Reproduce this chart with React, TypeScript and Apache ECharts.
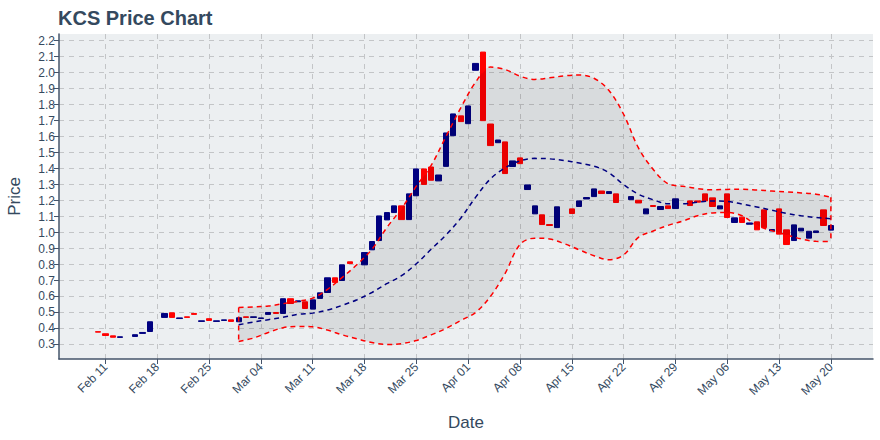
import React, { useEffect, useRef } from "react";
import * as echarts from "echarts";

const candleDates = [
  "2019-02-10", "2019-02-11", "2019-02-12", "2019-02-13", "2019-02-15", "2019-02-16", "2019-02-17",
  "2019-02-19", "2019-02-20", "2019-02-21", "2019-02-22", "2019-02-23", "2019-02-24", "2019-02-25",
  "2019-02-26", "2019-02-27", "2019-02-28", "2019-03-01", "2019-03-02", "2019-03-03", "2019-03-04",
  "2019-03-05", "2019-03-06", "2019-03-07", "2019-03-08", "2019-03-09", "2019-03-10", "2019-03-11",
  "2019-03-12", "2019-03-13", "2019-03-14", "2019-03-15", "2019-03-16", "2019-03-18", "2019-03-19",
  "2019-03-20", "2019-03-21", "2019-03-22", "2019-03-23", "2019-03-24", "2019-03-25", "2019-03-26",
  "2019-03-27", "2019-03-28", "2019-03-29", "2019-03-30", "2019-03-31", "2019-04-01", "2019-04-02",
  "2019-04-03", "2019-04-04", "2019-04-05", "2019-04-06", "2019-04-07", "2019-04-08", "2019-04-09",
  "2019-04-10", "2019-04-11", "2019-04-12", "2019-04-13", "2019-04-15", "2019-04-16", "2019-04-17",
  "2019-04-18", "2019-04-19", "2019-04-20", "2019-04-21", "2019-04-23", "2019-04-24", "2019-04-25",
  "2019-04-26", "2019-04-27", "2019-04-28", "2019-04-29", "2019-05-01", "2019-05-02", "2019-05-03",
  "2019-05-04", "2019-05-05", "2019-05-06", "2019-05-07", "2019-05-08", "2019-05-09", "2019-05-10",
  "2019-05-11", "2019-05-12", "2019-05-13", "2019-05-14", "2019-05-15", "2019-05-16", "2019-05-17",
  "2019-05-18", "2019-05-19", "2019-05-20",
];

const opens = [
  0.380, 0.367, 0.354, 0.344, 0.350, 0.369, 0.381,
  0.469, 0.498, 0.462, 0.473, 0.494, 0.444, 0.461,
  0.444, 0.450, 0.454, 0.442, 0.473, 0.469, 0.462,
  0.488, 0.500, 0.494, 0.586, 0.567, 0.567, 0.521,
  0.588, 0.625, 0.717, 0.700, 0.817, 0.798, 0.892,
  0.950, 1.079, 1.125, 1.167, 1.081, 1.230, 1.398,
  1.410, 1.323, 1.414, 1.606, 1.730, 1.681, 2.015,
  2.129, 1.679, 1.562, 1.567, 1.413, 1.467, 1.269,
  1.117, 1.111, 1.050, 1.031, 1.148, 1.163, 1.210,
  1.225, 1.260, 1.244, 1.242, 1.206, 1.202, 1.117,
  1.169, 1.144, 1.167, 1.150, 1.198, 1.198, 1.242,
  1.217, 1.148, 1.242, 1.063, 1.096, 1.052, 1.067,
  1.142, 1.010, 1.148, 1.017, 0.950, 1.010, 0.965,
  1.000, 1.142, 1.015,
];

const closes = [
  0.377, 0.356, 0.345, 0.348, 0.361, 0.375, 0.442,
  0.494, 0.469, 0.466, 0.469, 0.488, 0.448, 0.450,
  0.448, 0.454, 0.444, 0.467, 0.469, 0.473, 0.466,
  0.500, 0.494, 0.586, 0.556, 0.573, 0.525, 0.579,
  0.623, 0.717, 0.688, 0.798, 0.806, 0.875, 0.944,
  1.104, 1.125, 1.167, 1.081, 1.242, 1.398, 1.301,
  1.327, 1.360, 1.623, 1.742, 1.694, 1.792, 2.058,
  1.700, 1.544, 1.579, 1.369, 1.448, 1.431, 1.298,
  1.167, 1.050, 1.044, 1.161, 1.119, 1.198, 1.219,
  1.273, 1.244, 1.256, 1.188, 1.225, 1.185, 1.148,
  1.163, 1.163, 1.150, 1.211, 1.169, 1.190, 1.198,
  1.163, 1.167, 1.094, 1.092, 1.063, 1.060, 1.017,
  1.031, 1.019, 0.990, 0.925, 1.048, 1.027, 1.008,
  1.010, 1.044, 1.044,
];

const bandDates = [
  "2019-03-01", "2019-03-03", "2019-03-05", "2019-03-07", "2019-03-09", "2019-03-11", "2019-03-13",
  "2019-03-15", "2019-03-17", "2019-03-19", "2019-03-21", "2019-03-23", "2019-03-25", "2019-03-27",
  "2019-03-29", "2019-03-31", "2019-04-02", "2019-04-04", "2019-04-06", "2019-04-08", "2019-04-10",
  "2019-04-12", "2019-04-14", "2019-04-16", "2019-04-18", "2019-04-20", "2019-04-22", "2019-04-24",
  "2019-04-26", "2019-04-28", "2019-04-30", "2019-05-02", "2019-05-04", "2019-05-06", "2019-05-08",
  "2019-05-10", "2019-05-12", "2019-05-14", "2019-05-16", "2019-05-18", "2019-05-20",
];

const bandUpper = [
  0.531, 0.535, 0.540, 0.555, 0.570, 0.590, 0.645,
  0.720, 0.800, 0.895, 1.030, 1.150, 1.290, 1.420,
  1.600, 1.780, 1.940, 2.035, 2.020, 1.978, 1.958,
  1.968, 1.980, 1.986, 1.965, 1.890, 1.740, 1.530,
  1.395, 1.305, 1.290, 1.275, 1.267, 1.270, 1.271,
  1.266, 1.260, 1.254, 1.248, 1.240, 1.221,
];

const bandMiddle = [
  0.423, 0.440, 0.455, 0.470, 0.488, 0.496, 0.515,
  0.545, 0.580, 0.625, 0.680, 0.730, 0.805, 0.895,
  0.985, 1.090, 1.220, 1.335, 1.405, 1.448, 1.464,
  1.461, 1.450, 1.435, 1.415, 1.375, 1.300, 1.240,
  1.205, 1.180, 1.180, 1.190, 1.197, 1.195, 1.178,
  1.160, 1.140, 1.120, 1.105, 1.094, 1.086,
];

const bandLower = [
  0.319, 0.340, 0.375, 0.405, 0.413, 0.410, 0.390,
  0.360, 0.335, 0.312, 0.300, 0.305, 0.325, 0.360,
  0.400, 0.450, 0.500, 0.600, 0.745, 0.925, 0.965,
  0.960, 0.930, 0.892, 0.855, 0.830, 0.860, 0.970,
  1.010, 1.045, 1.072, 1.105, 1.123, 1.125, 1.105,
  1.045, 1.012, 0.985, 0.960, 0.945, 0.944,
];

const xTickDates = [
  "2019-02-11", "2019-02-18", "2019-02-25", "2019-03-04", "2019-03-11", "2019-03-18", "2019-03-25",
  "2019-04-01", "2019-04-08", "2019-04-15", "2019-04-22", "2019-04-29", "2019-05-06", "2019-05-13",
  "2019-05-20",
];
const xTickLabels = [
  "Feb 11", "Feb 18", "Feb 25", "Mar 04", "Mar 11", "Mar 18", "Mar 25",
  "Apr 01", "Apr 08", "Apr 15", "Apr 22", "Apr 29", "May 06", "May 13", "May 20",
];
const yTickValues = [
  0.3, 0.4, 0.5, 0.6, 0.7, 0.8, 0.9, 1.0, 1.1, 1.2, 1.3, 1.4, 1.5, 1.6, 1.7, 1.8, 1.9, 2.0, 2.1, 2.2,
];

const DAY = 86400000;
const BASE = Date.parse("2019-02-10");
// day number since 2019-02-10 (used as the x value on a linear axis)
const dayOf = (s: string) => Math.round((Date.parse(s) - BASE) / DAY);
const FONT = "'Liberation Sans', Arial, Helvetica, sans-serif";
const TEXT = "#34495e";
const AXIS = "#44546a";
const GRID = "#c3c5c7";
const UP = "#000080";
const DOWN = "#ff0000";

export default function App() {
  const ref = useRef<HTMLDivElement>(null);

  useEffect(() => {
    if (!ref.current) return;
    const chart = echarts.init(ref.current, undefined, { renderer: "svg" });

    const xTicks = xTickDates.map(dayOf);

    const candleData = candleDates.map((d, i) => [
      dayOf(d),
      opens[i],
      closes[i],
      Math.min(opens[i], closes[i]),
      Math.max(opens[i], closes[i]),
    ]);
    const bandX = bandDates.map(dayOf);
    // value first, x second, so that the stack is applied to the y dimension
    const lowerData = bandX.map((x, i) => [bandLower[i], x]);
    const widthData = bandX.map((x, i) => [bandUpper[i] - bandLower[i], x]);
    const midData = bandX.map((x, i) => [x, bandMiddle[i]]);
    const last = bandX.length - 1;
    const startEdge = [[bandX[0], bandUpper[0]], [bandX[0], bandLower[0]]];
    const endEdge = [[bandX[last], bandUpper[last]], [bandX[last], bandLower[last]]];

    const dashed = { color: DOWN, type: [5, 4] as any, width: 1.5 };
    const SM = 0.35;

    const option: any = {
      animation: false,
      backgroundColor: "#ffffff",
      textStyle: { fontFamily: FONT },
      title: {
        text: "KCS Price Chart",
        left: 53,
        top: 3,
        textStyle: { fontSize: 20, fontWeight: "bold", color: TEXT, fontFamily: FONT },
      },
      grid: {
        left: 59,
        right: 7,
        top: 34,
        bottom: 81,
        show: true,
        backgroundColor: "#ECEFF1",
        borderWidth: 0,
        containLabel: false,
        outerBoundsMode: "none",
      },
      xAxis: {
        type: "value",
        min: -5.27,
        max: 104.69,
        name: "Date",
        nameLocation: "middle",
        nameGap: 55,
        nameTextStyle: { fontSize: 17, color: TEXT, fontFamily: FONT },
        axisLine: { show: true, onZero: false, lineStyle: { color: AXIS, width: 1.5 } },
        axisTick: { show: true, length: 5, customValues: xTicks, lineStyle: { color: AXIS, width: 1 } },
        axisLabel: {
          customValues: xTicks,
          rotate: 45,
          fontSize: 12,
          color: TEXT,
          margin: 6,
          fontFamily: FONT,
          formatter: (v: number) => {
            const k = xTicks.findIndex((t) => Math.abs(t - v) < 0.25);
            return k >= 0 ? xTickLabels[k] : "";
          },
        },
        splitLine: { show: true, lineStyle: { color: GRID, type: [5, 5], width: 1 } },
      },
      yAxis: {
        type: "value",
        min: 0.209,
        max: 2.242,
        name: "Price",
        nameLocation: "middle",
        nameGap: 36,
        nameTextStyle: { fontSize: 17, color: TEXT, fontFamily: FONT },
        axisLine: { show: true, onZero: false, lineStyle: { color: AXIS, width: 1.5 } },
        axisTick: { show: true, length: 5, customValues: yTickValues, lineStyle: { color: AXIS, width: 1 } },
        axisLabel: {
          customValues: yTickValues,
          fontSize: 12,
          color: TEXT,
          margin: 4,
          fontFamily: FONT,
          formatter: (v: number) => v.toFixed(1),
        },
        splitLine: { show: true, lineStyle: { color: GRID, type: [5, 5], width: 1 } },
      },
      series: [
        {
          type: "candlestick",
          data: candleData,
          encode: { x: 0, y: [1, 2, 3, 4] },
          barWidth: 5.8,
          itemStyle: {
            color: UP,
            color0: DOWN,
            borderColor: UP,
            borderColor0: DOWN,
            borderWidth: 1,
          },
          z: 2,
        },
        {
          type: "line",
          data: lowerData,
          encode: { x: 1, y: 0 },
          stack: "band",
          smooth: SM,
          symbol: "none",
          lineStyle: dashed,
          z: 3,
        },
        {
          type: "line",
          data: widthData,
          encode: { x: 1, y: 0 },
          stack: "band",
          smooth: SM,
          symbol: "none",
          lineStyle: dashed,
          areaStyle: { color: "rgba(0,0,0,0.12)" },
          z: 3,
        },
        {
          type: "line",
          data: midData,
          smooth: SM,
          symbol: "none",
          lineStyle: { color: UP, type: [5, 4], width: 1.5 },
          z: 4,
        },
        {
          type: "line",
          data: startEdge,
          symbol: "none",
          lineStyle: dashed,
          z: 3,
        },
        {
          type: "line",
          data: endEdge,
          symbol: "none",
          lineStyle: dashed,
          z: 3,
        },
      ],
    };

    chart.setOption(option);
    return () => chart.dispose();
  }, []);

  return (
    <div
      ref={ref}
      style={{ position: "fixed", left: 0, top: 0, width: 880, height: 440, background: "#fff" }}
    />
  );
}
